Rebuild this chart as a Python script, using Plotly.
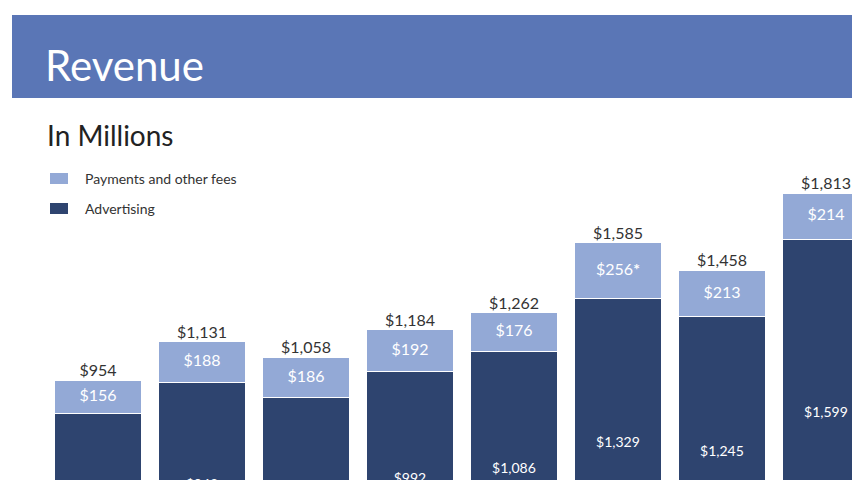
import plotly.graph_objects as go

quarters = ["Q1'12", "Q2'12", "Q3'12", "Q4'12", "Q1'13", "Q2'13", "Q3'13", "Q4'13"]
advertising = [798, 943, 872, 992, 1086, 1329, 1245, 1599]
payments = [156, 188, 186, 192, 176, 256, 213, 214]
totals = [954, 1131, 1058, 1184, 1262, 1585, 1458, 1813]
pay_labels = ["$156", "$188", "$186", "$192", "$176", "$256<b>*</b>", "$213", "$214"]

DARK = "#2e446f"
LIGHT = "#93a9d6"
x = list(range(len(quarters)))
OX, OY = 8, 8  # page offset of the plot in the browser


def px(xp):
    return (xp - OX) / 860


def py(yp):
    return 1 - (yp - OY) / 480


fig = go.Figure()
fig.add_bar(x=x, y=advertising, marker=dict(color=DARK, line=dict(color="white", width=1)),
            width=0.83, name="Advertising")
fig.add_bar(x=x, y=payments, marker=dict(color=LIGHT, line=dict(color="white", width=1)),
            width=0.83, name="Payments and other fees")

fig.add_scatter(x=x, y=[a / 2 for a in advertising], mode="text",
                text=[f"${a:,}" for a in advertising],
                textfont=dict(color="white", size=14, family="Lato"))
fig.add_scatter(x=x, y=[a + p / 2 for a, p in zip(advertising, payments)], mode="text",
                text=pay_labels, textfont=dict(color="white", size=16, family="Lato"))
fig.add_scatter(x=x, y=totals, mode="text", text=[f"${t:,}" for t in totals],
                textposition="top center", textfont=dict(color="#333333", size=16, family="Lato"))

fig.update_layout(
    width=860, height=480, barmode="stack", showlegend=False,
    margin=dict(l=0, r=0, t=0, b=0), plot_bgcolor="white", paper_bgcolor="white",
    xaxis=dict(range=[-0.865, 7.404], visible=False),
    yaxis=dict(range=[458, 2663], visible=False),
    shapes=[
        dict(type="rect", xref="paper", yref="paper", x0=px(12), x1=1, y0=py(98), y1=py(15),
             fillcolor="#5a76b6", line=dict(width=0), layer="below"),
        dict(type="rect", xref="paper", yref="paper", x0=px(50), x1=px(68), y0=py(184), y1=py(173),
             fillcolor=LIGHT, line=dict(width=0)),
        dict(type="rect", xref="paper", yref="paper", x0=px(50), x1=px(68), y0=py(214), y1=py(203),
             fillcolor=DARK, line=dict(width=0)),
    ],
    annotations=[
        dict(text="Revenue", xref="paper", yref="paper", x=px(43), y=py(65), xanchor="left",
             yanchor="middle", showarrow=False, font=dict(color="white", size=42, family="Lato")),
        dict(text="In Millions", xref="paper", yref="paper", x=px(45), y=py(135), xanchor="left",
             yanchor="middle", showarrow=False, font=dict(color="#222222", size=28, family="Lato")),
        dict(text="Payments and other fees", xref="paper", yref="paper", x=px(83), y=py(178),
             xanchor="left", yanchor="middle", showarrow=False, font=dict(color="#333333", size=14, family="Lato")),
        dict(text="Advertising", xref="paper", yref="paper", x=px(83), y=py(208),
             xanchor="left", yanchor="middle", showarrow=False, font=dict(color="#333333", size=14, family="Lato")),
    ],
)

fig.write_html("out.html")
